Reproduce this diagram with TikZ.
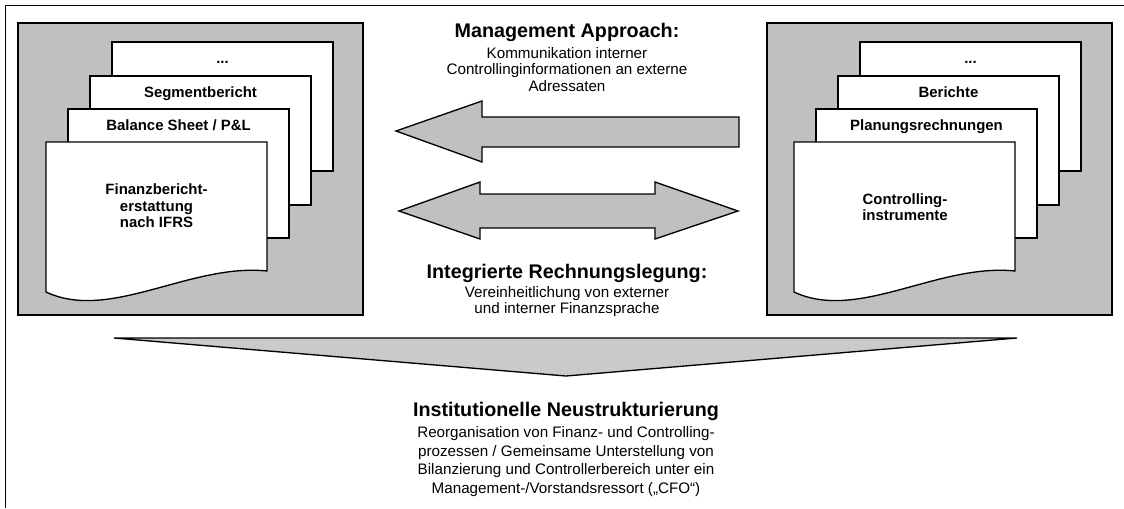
\documentclass[tikz,border=0pt]{standalone}
\usepackage{fontspec}
\setmainfont{Liberation Sans}
\definecolor{panelgray}{HTML}{C0C0C0}
\definecolor{arrowgray}{HTML}{C0C0C0}
\definecolor{bigarrowgray}{HTML}{CACACA}
\begin{document}
\begin{tikzpicture}[x=0.75pt,y=-0.75pt,
  frame/.style={draw=black, line width=1.2pt},
  panel/.style={draw=black, line width=1pt, fill=panelgray},
  docsheet/.style={draw=black, line width=1pt, fill=white},
  blockarrow/.style={draw=black, line width=1pt, fill=arrowgray, line join=miter},
  bigarrow/.style={draw=black, line width=1pt, fill=bigarrowgray, line join=miter},
  doclabel/.style={font=\fontsize{11.2}{12.4}\selectfont\bfseries, inner sep=0pt, anchor=base},
  docmain/.style={font=\fontsize{11.2}{12.4}\selectfont\bfseries, inner sep=0pt, align=center},
  titletext/.style={font=\fontsize{14.8}{17}\selectfont\bfseries, inner sep=0pt},
  subtext/.style={font=\fontsize{11.4}{12.4}\selectfont, align=center, inner sep=0pt},
  subtextwide/.style={font=\fontsize{11.4}{14.1}\selectfont, align=center, inner sep=0pt},
]
\useasboundingbox (0,0) rectangle (1124,508);
% outer frame (only left and top visible)
\draw[frame] (5.5,508) -- (5.5,5.5) -- (1124,5.5);

% panels
\draw[panel] (18,23) rectangle (363,315);
\draw[panel] (767,23) rectangle (1112,315);

% left document stack
\draw[docsheet] (112,42) rectangle (333,171);
\draw[docsheet] (90,76) rectangle (311,205);
\draw[docsheet] (68,109) rectangle (289,238);
\draw[docsheet] (46,142) -- (267,142) -- (267,271) .. controls (190,263) and (110,322) .. (46,292) -- cycle;
\node[doclabel] (ldots) at (222.5,63) {...};
\node[doclabel] (lseg) at (200.5,97) {Segmentbericht};
\node[doclabel] (lbal) at (178.5,130) {Balance Sheet / P\&L};
\node[docmain] (lfin) at (156.5,206) {Finanzbericht-\\erstattung\\nach IFRS};

% right document stack
\begin{scope}[xshift=561pt]
\draw[docsheet] (112,42) rectangle (333,171);
\draw[docsheet] (90,76) rectangle (311,205);
\draw[docsheet] (68,109) rectangle (289,238);
\draw[docsheet] (46,142) -- (267,142) -- (267,271) .. controls (190,263) and (110,322) .. (46,292) -- cycle;
\node[doclabel] (rdots) at (222.5,63) {...};
\node[doclabel] (rber) at (200.5,97) {Berichte};
\node[doclabel] (rplan) at (178.5,130) {Planungsrechnungen};
\node[docmain] (rcon) at (157,207) {Controlling-\\instrumente};
\end{scope}

% middle arrows
\draw[blockarrow] (396,131) -- (482,101) -- (482,117) -- (739,117) -- (739,147) -- (482,147) -- (482,162) -- cycle;
\draw[blockarrow] (399,211) -- (480,182) -- (480,194) -- (655,194) -- (655,182) -- (738,211) -- (655,239) -- (655,228) -- (480,228) -- (480,239) -- cycle;

% middle texts
\node[titletext] (mgmt) at (567,32) {Management Approach:};
\node[subtext] (mgmtsub) at (567,69.5) {Kommunikation interner\\Controllinginformationen an externe\\Adressaten};
\node[titletext] (integ) at (567,273) {Integrierte Rechnungslegung:};
\node[subtext] (integsub) at (567,301.5) {Vereinheitlichung von externer\\und interner Finanzsprache};

% bottom arrow
\draw[bigarrow] (114,338) -- (1017,338) -- (566,376) -- cycle;

% bottom text
\node[titletext] (inst) at (566,411) {Institutionelle Neustrukturierung};
\node[subtextwide] (instsub) at (566,461.5) {Reorganisation von Finanz- und Controlling-\\prozessen / Gemeinsame Unterstellung von\\Bilanzierung und Controllerbereich unter ein\\Management-/Vorstandsressort („CFO“)};
\end{tikzpicture}
\end{document}
